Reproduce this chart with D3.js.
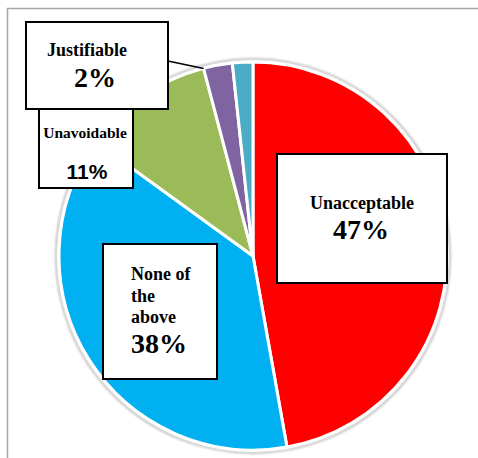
<!DOCTYPE html>
<html>
<head>
<meta charset="utf-8">
<script src="https://cdn.jsdelivr.net/npm/d3@7"></script>
<style>
  html, body { margin: 0; padding: 0; background: #fff; }
  svg { display: block; }
</style>
</head>
<body>
<svg id="chart" width="478" height="458"></svg>
<script>
// Slice data, clockwise from 12 o'clock.
const categories = ["Unacceptable", "None of the above", "Unavoidable", "Justifiable", "Other"];
const values = [47.2, 37.8, 10.9, 2.4, 1.7];
const colors = ["#FF0000", "#00B0F0", "#9BBB59", "#8064A2", "#4BACC6"];

// Label box layout (left, top, right, bottom) and text lines.
const boxes = [
    { i: 0, box: [277, 154, 447, 283], lines: [
        { t: "Unacceptable", x: 362, y: 209, size: 18, anchor: "middle" },
        { t: "pct", x: 361, y: 239, size: 28, anchor: "middle" }] },
    { i: 1, box: [103, 244, 217, 379], lines: [
        { t: "None of", x: 131, y: 280, size: 18 },
        { t: "the", x: 131, y: 302, size: 18 },
        { t: "above", x: 131, y: 323, size: 18 },
        { t: "pct", x: 131, y: 353, size: 28 }] },
    { i: 2, box: [39, 98, 133, 188], lines: [
        { t: "Unavoidable", x: 85, y: 138, size: 15.5, anchor: "middle" },
        { t: "pct", x: 87, y: 179, size: 21, anchor: "middle", sans: true }] },
    { i: 3, box: [26, 22, 168, 109], lines: [
        { t: "Justifiable", x: 87, y: 56, size: 18, anchor: "middle" },
        { t: "pct", x: 95, y: 87, size: 28, anchor: "middle" }] }
];

const svg = d3.select("#chart");
const cx = 253, cy = 256, r = 194;

// Chart frame.
svg.append("rect")
    .attr("x", 7.5).attr("y", 8.5)
    .attr("width", 500).attr("height", 480)
    .attr("fill", "none")
    .attr("stroke", "#a6a6a6")
    .attr("stroke-width", 1.5);

const pie = d3.pie().sort(null).value((d) => d)(values);
const arc = d3.arc().innerRadius(0).outerRadius(r);

const g = svg.append("g").attr("transform", `translate(${cx},${cy})`);

// Soft outline around the pie.
const defs = svg.append("defs");
defs.append("filter").attr("id", "soft")
    .append("feGaussianBlur").attr("stdDeviation", 1.2);
g.append("circle")
    .attr("r", r + 3)
    .attr("fill", "none")
    .attr("stroke", "#bdbdbd")
    .attr("stroke-width", 2)
    .attr("filter", "url(#soft)");
g.append("circle")
    .attr("r", r + 1.5)
    .attr("fill", "#fff");

g.selectAll("path.slice")
    .data(pie)
    .enter()
    .append("path")
    .attr("class", "slice")
    .attr("d", arc)
    .attr("fill", (d, i) => colors[i])
    .attr("stroke", "#fff")
    .attr("stroke-width", 3)
    .attr("stroke-linejoin", "round");

// Leader line from the Justifiable box to its slice.
const a = pie[3].startAngle;
svg.append("line")
    .attr("x1", 168).attr("y1", 61)
    .attr("x2", cx + r * Math.sin(a)).attr("y2", cy - r * Math.cos(a))
    .attr("stroke", "#000")
    .attr("stroke-width", 1.5);

// Label boxes, drawn so Justifiable sits on top of Unavoidable.
[boxes[0], boxes[1], boxes[2], boxes[3]].forEach((b) => {
    const [x0, y0, x1, y1] = b.box;
    svg.append("rect")
        .attr("x", x0).attr("y", y0)
        .attr("width", x1 - x0).attr("height", y1 - y0)
        .attr("fill", "#fff")
        .attr("stroke", "#000")
        .attr("stroke-width", 2);
    b.lines.forEach((l) => {
        const txt = l.t === "pct" ? Math.round(values[b.i]) + "%" : l.t;
        svg.append("text")
            .attr("x", l.x).attr("y", l.y)
            .attr("text-anchor", l.anchor || "start")
            .attr("font-family", l.sans ? "'Liberation Sans', Arial, sans-serif" : "'Liberation Serif', 'Times New Roman', serif")
            .attr("font-weight", "bold")
            .attr("font-size", l.size)
            .attr("fill", "#000")
            .text(txt);
    });
});
</script>
</body>
</html>
